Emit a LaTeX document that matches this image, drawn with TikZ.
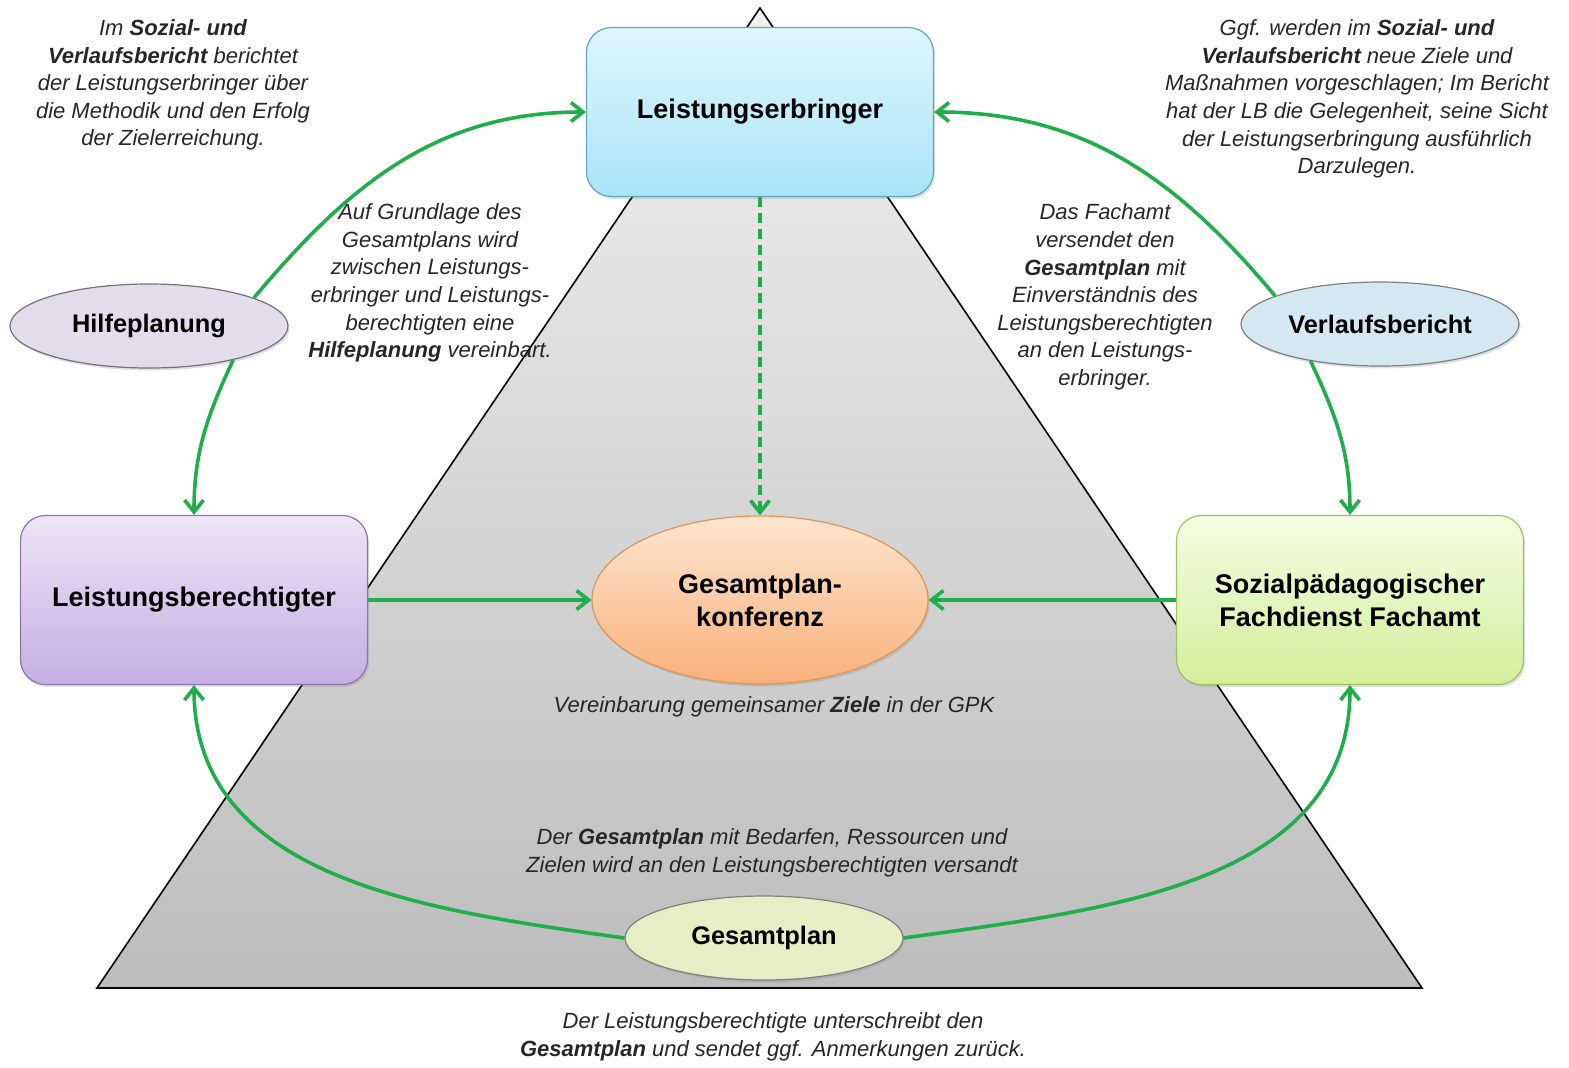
\documentclass[tikz,border=0pt]{standalone}
\usepackage{fontspec}
\setmainfont{Liberation Sans}
\usepackage{tikz}
\usetikzlibrary{calc,positioning,arrows,arrows.meta,shapes,shadows}

\definecolor{gruen}{HTML}{1FAE4B}
\definecolor{leoben}{HTML}{DFF6FD}
\definecolor{leunten}{HTML}{A9E4F7}
\definecolor{lerand}{HTML}{5FA8C0}
\definecolor{lboben}{HTML}{EEE5F7}
\definecolor{lbunten}{HTML}{C5AEE2}
\definecolor{lbrand}{HTML}{8C78A8}
\definecolor{sfdoben}{HTML}{F5FCE2}
\definecolor{sfdunten}{HTML}{D2EF9C}
\definecolor{sfdrand}{HTML}{A0C068}
\definecolor{gpkoben}{HTML}{FDE5CF}
\definecolor{gpkunten}{HTML}{F8B07A}
\definecolor{gpkrand}{HTML}{D8985C}
\definecolor{hilfefarbe}{HTML}{E3DCEC}
\definecolor{verlauffarbe}{HTML}{D3E8F0}
\definecolor{planfarbe}{HTML}{E6EEC6}

\begin{document}
\begin{tikzpicture}[x=0.5pt,y=0.5pt]

\tikzstyle{kasten}=[draw, rounded corners=12.5pt, line width=0.6pt,
                    minimum width=173.5pt, minimum height=84.5pt, align=center,
                    font=\fontsize{13.5}{16.5}\selectfont\bfseries,
                    drop shadow={opacity=0.25,shadow xshift=0.8pt,shadow yshift=-1.2pt}]
\tikzstyle{oval}=[draw, ellipse, line width=0.6pt, inner sep=0pt,
                  minimum width=139pt, minimum height=42pt,
                  font=\fontsize{12.7}{15}\selectfont\bfseries,
                  drop shadow={opacity=0.25,shadow xshift=0.8pt,shadow yshift=-1.2pt}]
\tikzstyle{notiz}=[align=center, inner sep=0pt, text=black!85,
                   font=\fontsize{11}{13.8}\selectfont\itshape]
\tikzstyle{pfeil}=[draw=gruen, line width=1.8pt, -{Straight Barb[length=6pt,width=9.5pt]}]

\useasboundingbox (0,0) rectangle (1569,-1067);

% Dreieck im Hintergrund
\coordinate (spitze) at (760,-8);
\coordinate (links) at (97,-988);
\coordinate (rechts) at (1422,-988);
\draw[top color=black!6, bottom color=black!26, line width=0.8pt] (spitze) -- (rechts) -- (links) -- cycle;

\node[kasten, top color=leoben, bottom color=leunten, draw=lerand] (le) at (760,-112) {Leistungserbringer};
\node[kasten, top color=lboben, bottom color=lbunten, draw=lbrand] (lb) at (194,-600) {Leistungsberechtigter};
\node[kasten, top color=sfdoben, bottom color=sfdunten, draw=sfdrand] (sfd) at (1350,-600) {Sozialp\"adagogischer\\Fachdienst Fachamt};
\node[draw, ellipse, line width=0.6pt, inner sep=0pt, minimum width=168pt, minimum height=84pt,
      top color=gpkoben, bottom color=gpkunten, draw=gpkrand, align=center,
      font=\fontsize{13.5}{16.5}\selectfont\bfseries,
      drop shadow={opacity=0.25,shadow xshift=0.8pt,shadow yshift=-1.2pt}] (gpk) at (760,-600) {Gesamtplan-\\konferenz};

\node[oval, fill=hilfefarbe, draw=black!55] (hilfe) at (149,-326) {Hilfeplanung};
\node[oval, fill=verlauffarbe, draw=black!50] (verlauf) at (1380,-324) {Verlaufsbericht};
\node[oval, fill=planfarbe, draw=black!50] (gplan) at (764,-938) {Gesamtplan};

\node[notiz] (notizlo) at (173,-85) {Im \textbf{Sozial- und}\\\textbf{Verlaufsbericht} berichtet\\der Leistungserbringer \"uber\\die Methodik und den Erfolg\\der Zielerreichung.};
\node[notiz] (notizro) at (1357,-99) {Ggf. werden im \textbf{Sozial- und}\\\textbf{Verlaufsbericht} neue Ziele und\\Ma\ss nahmen vorgeschlagen; Im Bericht\\hat der LB die Gelegenheit, seine Sicht\\der Leistungserbringung ausf\"uhrlich\\Darzulegen.};
\node[notiz] (notizlm) at (430,-283) {Auf Grundlage des\\Gesamtplans wird\\zwischen Leistungs-\\erbringer und Leistungs-\\berechtigten eine\\\textbf{Hilfeplanung} vereinbart.};
\node[notiz] (notizrm) at (1105,-297) {Das Fachamt\\versendet den\\\textbf{Gesamtplan} mit\\Einverst\"andnis des\\Leistungsberechtigten\\an den Leistungs-\\erbringer.};
\node[notiz] (notizgpk) at (774,-707) {Vereinbarung gemeinsamer \textbf{Ziele} in der GPK};
\node[notiz] (notizgp) at (772,-853) {Der \textbf{Gesamtplan} mit Bedarfen, Ressourcen und\\Zielen wird an den Leistungsberechtigten versandt};
\node[notiz] (notizunten) at (773,-1037) {Der Leistungsberechtigte unterschreibt den\\\textbf{Gesamtplan} und sendet ggf. Anmerkungen zur\"uck.};

% Verbindungen
\draw[pfeil] (hilfe.15) to[out=50,in=180] (le.west);
\draw[pfeil] (hilfe.-22) to[out=-115,in=90] (lb.north);
\draw[pfeil] (verlauf.165) to[out=130,in=0] (le.east);
\draw[pfeil] (verlauf.-152) to[out=-65,in=90] (sfd.north);
\draw[pfeil] (gplan.west) to[out=172,in=-90] (lb.south);
\draw[pfeil] (gplan.east) to[out=8,in=-90] (sfd.south);
\foreach \i/\j in {lb.east/gpk.west,sfd.west/gpk.east}{\draw[pfeil] (\i) -- (\j);}
\draw[pfeil, dash pattern=on 5pt off 3pt] (le.south) -- (gpk.north);

\end{tikzpicture}
\end{document}
